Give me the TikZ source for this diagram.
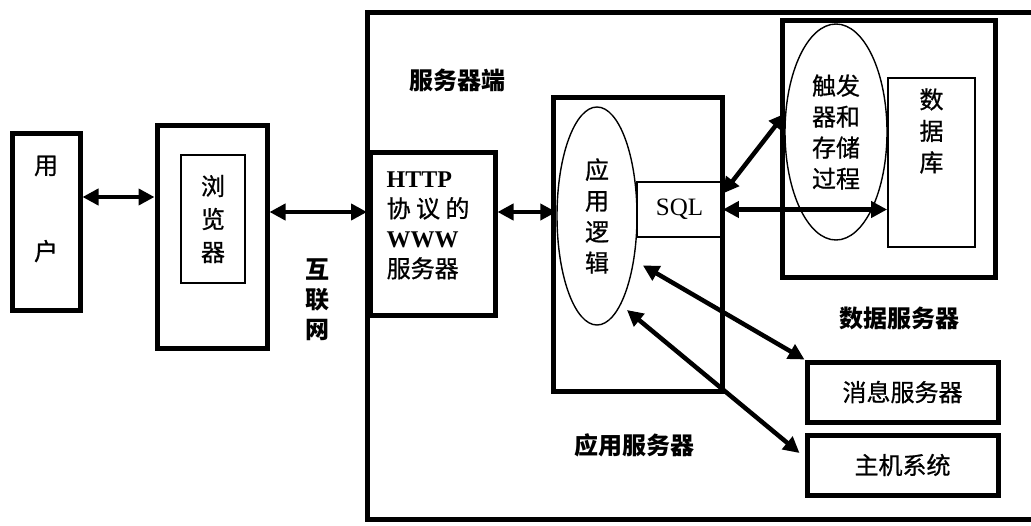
\documentclass[tikz,border=0pt]{standalone}
\usepackage{fontspec}
\setmainfont{Liberation Serif}
\newfontfamily\cjk{Noto Sans CJK SC}
\newfontfamily\cjkm{Noto Sans CJK SC}[FakeBold=0.8]
\usetikzlibrary{arrows.meta,shapes.geometric}
\newcommand\zhsize{\cjkm\fontsize{24}{30}\selectfont}

\begin{document}
\begin{tikzpicture}[x=1pt,y=-1pt,>={Triangle[length=16pt,width=16pt]},
  font=\fontsize{24}{30}\selectfont,
  every node/.style={align=center,inner sep=0pt},
  box/.style={draw,line width=5pt},
  thinbox/.style={draw,line width=1.8pt},
  oval/.style={draw,ellipse,line width=1.4pt},
  zh/.style={font=\zhsize},
  title/.style={font=\cjk\bfseries\fontsize{24}{30}\selectfont},
  link/.style={<->,line width=4.5pt},
  sz/.style 2 args={minimum width=#1pt,minimum height=#2pt}]
  \useasboundingbox (0,0) rectangle (1031,525);

  % client side
  \node[box,sz={68}{177},label={[zh,anchor=north,yshift=-25pt]north:用\\[56pt]户}] (user) at (46,221.5) {};
  \node[box,sz={110}{223}] (browser) at (212,236.5) {};
  \node[thinbox,zh,sz={64}{128}] (browserin) at (213,219) {浏\\[3pt]览\\[3pt]器};
  \node[title] (net) at (317,300) {互\\联\\网};

  % server side
  \node[sz={664}{507},outer sep=0pt] (server) at (699,265.5) {};
  \draw[line width=5pt] (server.north east) -- (server.north west) -- (server.south west) -- (server.south east);
  \node[title] (srvlabel) at (457,80) {服务器端};
  \node[box,sz={125}{163},label={[anchor=north west,align=left,xshift=19pt,yshift=-22pt]north west:\textbf{HTTP}\\{\zhsize 协 议 的}\\\textbf{WWW}\\{\zhsize 服务器}}] (http) at (432.5,233.5) {};

  % application server
  \node[box,sz={169}{294}] (appsrv) at (637.5,244) {};
  \node[oval,zh,sz={80}{218}] (logic) at (597,216) {应\\[1pt]用\\[1pt]逻\\[1pt]辑};
  \node[thinbox,sz={85}{55},font=\fontsize{25}{28}\selectfont] (sql) at (679.5,209.5) {SQL};
  \node[title] (applabel) at (634,445) {应用服务器};

  % data server
  \node[box,sz={213}{257}] (datasrv) at (888.5,148.5) {};
  \node[oval,zh,sz={102}{216}] (trigger) at (836,132) {触发\\[1pt]器和\\[1pt]存储\\[1pt]过程};
  \node[thinbox,sz={87}{169},label={[zh,anchor=north,yshift=-11pt]north:数\\[1.5pt]据\\[1.5pt]库}] (db) at (931.5,162.5) {};
  \node[title] (datalabel) at (899,318) {数据服务器};

  % other systems
  \node[box,zh,sz={191}{60}] (msg) at (902.5,392) {消息服务器};
  \node[box,zh,sz={191}{60}] (host) at (902.5,465) {主机系统};

  % connections
  \draw[link] ([yshift=24.5pt]user.east) -- ([yshift=24.5pt]user.east -| browser.west);
  \draw[link] ([yshift=24.5pt]browser.east) -- ([yshift=24.5pt]browser.east -| server.west);
  \draw[link] ([yshift=21.5pt]http.east) -- ([yshift=21.5pt]http.east -| logic.west);
  \draw[link] ([yshift=16pt]sql.east) -- (trigger.160);
  \draw[link] (sql.east) -- (sql.east -| db.west);
  \draw[link,shorten <=10pt] (logic.-50) -- (msg.north west);
  \draw[link,shorten <=8pt] (logic.-75) -- ([xshift=-5pt,yshift=12pt]host.west);
\end{tikzpicture}
\end{document}
